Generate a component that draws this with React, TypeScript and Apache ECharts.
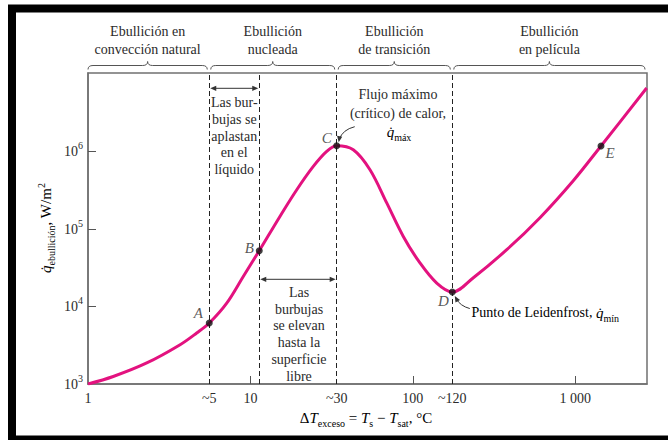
import React, { useEffect, useRef } from 'react';
import * as echarts from 'echarts';

// Boiling curve (log-log)
const curveT = [1, 1.43, 2.3, 3.69, 4.67, 5.58, 7.15, 9.04, 11.34, 15.2, 19.3, 24.4, 29.5, 34.0, 43.0, 54.5, 69.1, 87.4, 110.7, 140.4, 175.1, 236, 379, 607, 973, 1442, 2755];
const curveQ = [1000, 1250, 1870, 3220, 4560, 6140, 11100, 24500, 52700, 146000, 323000, 646000, 1010000, 1196000, 1062000, 586000, 218000, 80500, 36600, 20100, 15400, 23600, 54300, 140600, 422000, 1186000, 6650000];

const pointNames = ['A', 'B', 'C', 'D', 'E'];
const pointT = [5.58, 11.34, 34.0, 175.1, 1442];
const pointQ = [6140, 52700, 1196000, 15400, 1186000];
const pointLabelOffsets = [[-11, -10], [-10, -3], [-10, -8], [-9, 9], [9, 7]];

const regionBounds = [5.58, 11.34, 34.0, 175.1];
const regionTitles = [
  ['Ebullición en', 'convección natural'],
  ['Ebullición', 'nucleada'],
  ['Ebullición', 'de transición'],
  ['Ebullición', 'en película'],
];

const xTickValues = [1, 5.58, 10, 34.0, 100, 175.1, 1000];
const xTickLabels = ['1', '~5', '10', '~30', '100', '~120', '1 000'];
const xMarkTicks = [10, 100, 1000];
const yTickValues = [1e3, 1e4, 1e5, 1e6];
const yMarkTicks = [1e4, 1e5, 1e6];

const X_MIN = 1;
const X_MAX = 2768;
const Y_MIN = 1000;
const Y_MAX = 1.039e7;

const FONT = 'Liberation Serif';
const TXT = '#2b2b2b';

const Brace = echarts.graphic.extendShape({
  shape: { x1: 0, x2: 100, y: 0, h: 4 },
  buildPath(ctx: any, s: any) {
    const { x1, x2, y, h } = s;
    const m = (x1 + x2) / 2;
    const r = 5;
    ctx.moveTo(x1, y + h);
    ctx.quadraticCurveTo(x1, y, x1 + r, y);
    ctx.lineTo(m - r, y);
    ctx.quadraticCurveTo(m, y, m, y - h);
    ctx.quadraticCurveTo(m, y, m + r, y);
    ctx.lineTo(x2 - r, y);
    ctx.quadraticCurveTo(x2, y, x2, y + h);
  },
});
echarts.graphic.registerShape('brace', Brace);

function head(tx: number, ty: number, fx: number, fy: number, len = 6, w = 2.6) {
  const dx = tx - fx;
  const dy = ty - fy;
  const L = Math.hypot(dx, dy) || 1;
  const ux = dx / L;
  const uy = dy / L;
  const bx = tx - ux * len;
  const by = ty - uy * len;
  return {
    type: 'polygon',
    shape: { points: [[tx, ty], [bx - uy * w, by + ux * w], [bx + uy * w, by - ux * w]] },
    style: { fill: '#333' },
    z: 20,
  };
}

const richMain = {
  n: { fontFamily: FONT, fontSize: 15, color: TXT, lineHeight: 18 },
  i: { fontFamily: FONT, fontSize: 15, fontStyle: 'italic', color: TXT, lineHeight: 18 },
  s: { fontFamily: FONT, fontSize: 10, color: TXT, lineHeight: 18, padding: [11, 0, 0, 0] },
  p: { fontFamily: FONT, fontSize: 10, color: TXT, lineHeight: 18, padding: [0, 0, 9, 0] },
};

export default function App() {
  const ref = useRef<HTMLDivElement>(null);

  useEffect(() => {
    if (!ref.current) return;
    const chart = echarts.init(ref.current, null, { renderer: 'svg' });
    const option: any = {
      animation: false,
      backgroundColor: '#ffffff',
      grid: {
        left: 88, top: 73, width: 559, height: 311,
        show: true, borderColor: '#707070', borderWidth: 1.5,
        containLabel: false, outerBoundsMode: 'none',
      },
      xAxis: {
        type: 'log', logBase: 10, min: X_MIN, max: X_MAX,
        axisLine: { show: true, lineStyle: { color: '#707070', width: 1.5 } },
        axisTick: { show: true, inside: true, length: 8, customValues: xMarkTicks, lineStyle: { color: '#555', width: 1 } },
        minorTick: { show: false },
        splitLine: { show: false },
        axisLabel: {
          customValues: xTickValues,
          margin: 7,
          color: TXT, fontFamily: FONT, fontSize: 14,
          formatter: (v: number) => {
            let best = 0;
            let bd = Infinity;
            xTickValues.forEach((t, i) => {
              const d = Math.abs(Math.log10(t) - Math.log10(v));
              if (d < bd) { bd = d; best = i; }
            });
            return xTickLabels[best];
          },
        },
      },
      yAxis: {
        type: 'log', logBase: 10, min: Y_MIN, max: Y_MAX,
        axisLine: { show: true, lineStyle: { color: '#707070', width: 1.5 } },
        axisTick: { show: true, inside: true, length: 8, customValues: yMarkTicks, lineStyle: { color: '#555', width: 1 } },
        minorTick: { show: false },
        splitLine: { show: false },
        axisLabel: {
          customValues: yTickValues,
          margin: 5,
          formatter: (v: number) => `{b|10}{s|${Math.round(Math.log10(v))}}`,
          rich: {
            b: { fontFamily: FONT, fontSize: 14, color: TXT, lineHeight: 16 },
            s: { fontFamily: FONT, fontSize: 10, color: TXT, lineHeight: 16, padding: [0, 0, 12, 0] },
          },
        },
      },
      series: [
        {
          type: 'line',
          data: curveT.map((t, i) => [t, curveQ[i]]),
          smooth: 0.35,
          symbol: 'none',
          lineStyle: { color: '#e3127f', width: 3 },
          z: 3,
          markLine: {
            silent: true,
            symbol: 'none',
            label: { show: false },
            lineStyle: { type: [5, 3], color: '#222', width: 1 },
            data: regionBounds.map((v) => ({ xAxis: v })),
            z: 2,
          },
        },
        {
          type: 'scatter',
          symbolSize: 7,
          itemStyle: { color: '#111' },
          z: 10,
          data: pointNames.map((n, i) => ({
            name: n,
            value: [pointT[i], pointQ[i]],
            label: {
              show: true,
              formatter: '{b}',
              position: 'inside',
              offset: pointLabelOffsets[i],
              fontFamily: FONT,
              fontStyle: 'italic',
              fontSize: 15,
              color: TXT,
            },
          })),
        },
      ],
    };
    chart.setOption(option);

    const px = (v: number) => chart.convertToPixel({ xAxisIndex: 0 }, v) as number;
    const pt = (t: number, q: number) => chart.convertToPixel({ gridIndex: 0 }, [t, q]) as number[];

    const b0 = px(X_MIN);
    const b1 = px(regionBounds[0]);
    const bB = px(regionBounds[1]);
    const b2 = px(regionBounds[2]);
    const b3 = px(regionBounds[3]);
    const b4 = px(X_MAX);
    const braces = [[b0, b1 - 2], [b1 + 1.5, b2 - 2], [b2 + 1.5, b3 - 2], [b3 + 1.5, b4 - 2]];

    const els: any[] = [];
    // outer black frame
    els.push({ type: 'rect', shape: { x: 12, y: 8.5, width: 720, height: 431 }, style: { fill: null, stroke: '#000', lineWidth: 8 }, z: 50 });

    braces.forEach(([x1, x2], i) => {
      els.push({ type: 'brace', shape: { x1, x2, y: 65.5, h: 4 }, style: { fill: null, stroke: '#555', lineWidth: 1 } });
      els.push({
        type: 'text', x: (x1 + x2) / 2, y: 40,
        style: { text: regionTitles[i].join('\n'), fontFamily: FONT, fontSize: 14, lineHeight: 18, fill: TXT, align: 'center', verticalAlign: 'middle' },
      });
    });

    // horizontal double arrows
    const arrows = [[b1 + 1, bB - 1, 88.3], [bB + 1, b2 - 1, 279.3]];
    arrows.forEach(([x1, x2, y]) => {
      els.push({ type: 'line', shape: { x1: x1 + 3, y1: y, x2: x2 - 3, y2: y }, style: { stroke: '#333', lineWidth: 1 } });
      els.push(head(x1, y, x1 + 10, y));
      els.push(head(x2, y, x2 - 10, y));
    });

    els.push({
      type: 'text', x: (b1 + bB) / 2, y: 136,
      style: { text: 'Las bur-\nbujas se\naplastan\nen el\nlíquido', fontFamily: FONT, fontSize: 14, lineHeight: 16.7, fill: TXT, align: 'center', verticalAlign: 'middle' },
    });
    els.push({
      type: 'text', x: (bB + b2) / 2 + 1, y: 334.3,
      style: { text: 'Las\nburbujas\nse elevan\nhasta la\nsuperficie\nlibre', fontFamily: FONT, fontSize: 14, lineHeight: 16.7, fill: TXT, align: 'center', verticalAlign: 'middle' },
    });
    els.push({
      type: 'text', x: 398, y: 104,
      style: { text: 'Flujo máximo\n(crítico) de calor,', fontFamily: FONT, fontSize: 14, lineHeight: 18.3, fill: TXT, align: 'center', verticalAlign: 'middle' },
    });
    els.push({
      type: 'text', x: 399, y: 132,
      style: { text: '{i|q\u0307}{s|máx}', rich: richMain, align: 'center', verticalAlign: 'middle' },
    });
    els.push({
      type: 'text', x: 471.5, y: 312.7,
      style: { text: '{n|Punto de Leidenfrost, }{i|q\u0307}{s|mín}', rich: { ...richMain, n: { ...richMain.n, fontSize: 14 } }, align: 'left', verticalAlign: 'middle' },
    });

    // curved arrows to C and D
    const [cx, cy] = pt(pointT[2], pointQ[2]);
    const cStart = [cx + 18, cy - 19];
    const cCtrl = [cx + 6, cy - 16];
    const cEnd = [cx + 2, cy - 3.5];
    els.push({ type: 'bezierCurve', shape: { x1: cStart[0], y1: cStart[1], cpx1: cCtrl[0], cpy1: cCtrl[1], x2: cEnd[0] + 0.6, y2: cEnd[1] - 3 }, style: { stroke: '#333', lineWidth: 1, fill: null } });
    els.push(head(cEnd[0], cEnd[1], cCtrl[0] - 2, cCtrl[1]));

    const [dx, dy] = pt(pointT[3], pointQ[3]);
    const dStart = [dx + 17.5, dy + 16.5];
    const dCtrl = [dx + 8, dy + 14];
    const dEnd = [dx + 2.5, dy + 4];
    els.push({ type: 'bezierCurve', shape: { x1: dStart[0], y1: dStart[1], cpx1: dCtrl[0], cpy1: dCtrl[1], x2: dEnd[0] + 1.2, y2: dEnd[1] + 2.5 }, style: { stroke: '#333', lineWidth: 1, fill: null } });
    els.push(head(dEnd[0], dEnd[1], dCtrl[0] - 1, dCtrl[1] - 2));

    // axis titles
    els.push({
      type: 'text', x: 46, y: 228, rotation: Math.PI / 2,
      style: { text: '{i|q\u0307}{s|ebullición}{n|, W/m}{p|2}', rich: richMain, align: 'center', verticalAlign: 'middle' },
    });
    els.push({
      type: 'text', x: 366, y: 418,
      style: { text: '{n|Δ}{i|T}{s|exceso}{n| = }{i|T}{s|s}{n| − }{i|T}{s|sat}{n|, °C}', rich: richMain, align: 'center', verticalAlign: 'middle' },
    });

    chart.setOption({ graphic: { elements: els } });
    return () => chart.dispose();
  }, []);

  return (
    <div
      ref={ref}
      style={{ position: 'absolute', left: 0, top: 0, width: 668, height: 440, background: '#fff' }}
    />
  );
}
